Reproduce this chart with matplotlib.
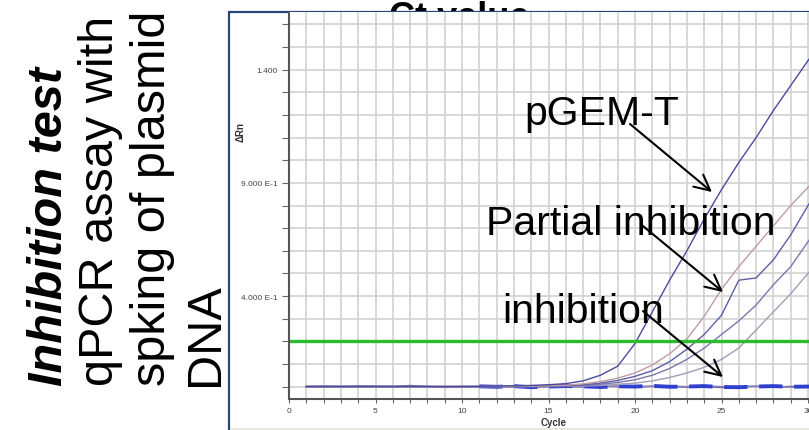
import matplotlib
matplotlib.use("Agg")
import matplotlib.pyplot as plt
from matplotlib.patches import Rectangle
from matplotlib.ticker import MultipleLocator

plt.rcParams['font.family'] = ['Liberation Sans', 'DejaVu Sans']

# ---------------- data ----------------
cycles = list(range(1, 32))
pgem = [0.0, 0.0, 0.0, 0.0, 0.0, 0.0, 0.0, 0.0, 0.0, 0.0, 0.001, 0.002, 0.003, 0.005, 0.008,
        0.013, 0.025, 0.05, 0.09, 0.19, 0.33, 0.47, 0.6, 0.74, 0.87, 0.99, 1.1, 1.22, 1.33, 1.44, 1.55]
partial_a = [0.0, 0.0, 0.0, 0.0, 0.0, 0.0, 0.0, 0.0, 0.0, 0.0, 0.0, 0.001, 0.001, 0.002, 0.003,
             0.006, 0.012, 0.022, 0.037, 0.06, 0.095, 0.145, 0.21, 0.31, 0.43, 0.53, 0.62, 0.71, 0.8, 0.88, 0.96]
partial_b = [0.0, 0.0, 0.0, 0.0, 0.0, 0.0, 0.0, 0.0, 0.0, 0.0, 0.0, 0.0, 0.001, 0.001, 0.002,
             0.004, 0.008, 0.015, 0.027, 0.045, 0.07, 0.11, 0.165, 0.23, 0.315, 0.47, 0.48, 0.56, 0.67, 0.8, 0.92]
partial_c = [0.0, 0.0, 0.0, 0.0, 0.0, 0.0, 0.0, 0.0, 0.0, 0.0, 0.0, 0.0, 0.0, 0.0, 0.001,
             0.002, 0.005, 0.01, 0.018, 0.03, 0.05, 0.08, 0.12, 0.17, 0.23, 0.29, 0.36, 0.45, 0.53, 0.64, 0.74]
partial_d = [0.0, 0.0, 0.0, 0.0, 0.0, 0.0, 0.0, 0.0, 0.0, 0.0, 0.0, 0.0, 0.0, 0.0, 0.0,
             0.001, 0.002, 0.005, 0.01, 0.015, 0.025, 0.04, 0.06, 0.085, 0.12, 0.17, 0.25, 0.33, 0.41, 0.5, 0.58]
inhib_a = [0.0, 0.001, 0.0, 0.002, 0.001, 0.0, 0.004, 0.0, -0.003, 0.0, -0.002, 0.001, 0.0, -0.002, 0.001,
           0.0, -0.001, 0.002, 0.0, -0.001, 0.001, 0.0, -0.002, 0.0, -0.004, 0.0, 0.001, -0.002, 0.0, 0.001, 0.0]
inhib_b = [0.0, 0.0, 0.001, 0.0, 0.0, 0.001, 0.002, -0.002, 0.0, 0.0, 0.001, -0.001, 0.002, -0.003, 0.0,
           0.002, 0.001, -0.002, 0.001, 0.0, 0.003, -0.001, 0.0, 0.002, -0.002, -0.003, 0.0, 0.002, -0.001, 0.0, 0.001]
inhib_c = [-0.001, 0.0, 0.0, -0.001, 0.0, 0.0, 0.0, 0.0, 0.0, -0.001, 0.0, 0.0, -0.001, 0.001, -0.002,
           0.001, -0.002, 0.0, 0.002, -0.001, 0.001, 0.002, 0.0, 0.003, 0.0, -0.002, 0.001, 0.0, -0.003, 0.002, 0.0]
threshold = 0.2

xtick_values = [0, 5, 10, 15, 20, 25, 30]
xtick_labels = ['0', '5', '10', '15', '20', '25', '30']
ytick_values = [0.4, 0.9, 1.4]
ytick_labels = ['4.000 E-1', '9.000 E-1', '1.400']

# ---------------- figure ----------------
W, H = 809, 431
fig = plt.figure(figsize=(W / 100, H / 100), dpi=100)
fig.patch.set_facecolor('white')

def fx(px):
    return px / W

def fy(py):
    return 1 - py / H

# title partly hidden behind the frame
fig.text(fx(459), fy(28), 'Ct value', fontsize=26, fontweight='bold',
         ha='center', va='baseline', zorder=-3)

# frame
frame = Rectangle((fx(229), fy(433)), fx(600), (433 - 12.5) / H, transform=fig.transFigure,
                  facecolor='white', edgecolor='#27467a', linewidth=1.6, zorder=-2)
fig.add_artist(frame)
strip = Rectangle((fx(230), fy(431)), fx(590), 2.5 / H, transform=fig.transFigure,
                  facecolor='#e9e8df', edgecolor='none', zorder=-1)
fig.add_artist(strip)

ax = fig.add_axes([fx(289), fy(400), fx(520), (400 - 13) / H])
ax.set_zorder(0)
ax.set_facecolor('white')
ax.set_xlim(0, 520 / 17.3)
ax.set_ylim(-0.055, 1.655)

# grid
ax.xaxis.set_minor_locator(MultipleLocator(1))
ax.yaxis.set_minor_locator(MultipleLocator(0.1))
ax.grid(True, which='both', color='#d2d2d2', linewidth=1.2)
ax.set_axisbelow(True)

ax.set_xticks(xtick_values)
ax.set_xticklabels(xtick_labels)
ax.set_yticks(ytick_values)
ax.set_yticklabels(ytick_labels)
ax.tick_params(axis='x', which='both', direction='out', length=3, width=0.8, color='#666666',
               labelsize=6, labelcolor='#444444', pad=3)
ax.tick_params(axis='y', which='both', direction='out', length=5, width=0.8, color='#666666',
               labelsize=6, labelcolor='#444444', pad=3)
for s in ['top', 'right']:
    ax.spines[s].set_visible(False)
for s in ['left', 'bottom']:
    ax.spines[s].set_color('#555555')
    ax.spines[s].set_linewidth(1.5)

ax.text(15.3, -0.155, 'Cycle', fontsize=7, fontweight='bold', ha='center', va='center',
        color='#333333', clip_on=False)
ax.text(-2.8, 1.13, '\u0394Rn', fontsize=7, fontweight='bold', rotation=90, ha='center',
        va='center', color='#333333', clip_on=False)

# curves
ax.plot(cycles, inhib_a, color='#6a62a8', lw=1.2)
ax.plot(cycles, inhib_c, color='#8a80b8', lw=1.0)
ax.plot(cycles[10:], inhib_b[10:], color='#2f3fcf', lw=2.8, dashes=(6, 3))
ax.plot(cycles, partial_d, color='#a49cb8', lw=1.0)
ax.plot(cycles, partial_c, color='#7a78ae', lw=1.0)
ax.plot(cycles, partial_b, color='#5e5ea6', lw=1.0)
ax.plot(cycles, partial_a, color='#bc9ea4', lw=1.0)
ax.plot(cycles, pgem, color='#4b4b9e', lw=1.0)
ax.axhline(threshold, color='#2cbb2c', lw=2.4)

# annotations
def dx(px):
    return (px - 289) / 17.3

def dy(py):
    return (387.5 - py) / 226.3

ax.text(dx(602), dy(125), 'pGEM-T', fontsize=29.5, ha='center', va='baseline', zorder=5)
ax.text(dx(631), dy(235), 'Partial inhibition', fontsize=29.5, ha='center', va='baseline', zorder=5)
ax.text(dx(583), dy(323), 'inhibition', fontsize=29.5, ha='center', va='baseline', zorder=5)

arrow_kw = dict(arrowstyle='->', color='black', lw=1.5, mutation_scale=28, shrinkA=0, shrinkB=0)
ax.annotate('', xy=(dx(712), dy(193)), xytext=(dx(630), dy(125)), arrowprops=arrow_kw, zorder=6)
ax.annotate('', xy=(dx(723), dy(293)), xytext=(dx(643), dy(227)), arrowprops=arrow_kw, zorder=6)
ax.annotate('', xy=(dx(723), dy(378)), xytext=(dx(643), dy(312)), arrowprops=arrow_kw, zorder=6)

# left side description
left_lines = [('Inhibition test', 62, 'bold', 'italic'),
              ('qPCR assay with', 113, 'normal', 'normal'),
              ('spking of plasmid', 165, 'normal', 'normal'),
              ('DNA', 218, 'normal', 'normal')]
for txt, bx, fw, fs in left_lines:
    fig.text(fx(bx), fy(386), txt, fontsize=35, fontweight=fw, fontstyle=fs, rotation=90,
             rotation_mode='anchor', ha='left', va='baseline')

fig.savefig('out.png', dpi=100)
